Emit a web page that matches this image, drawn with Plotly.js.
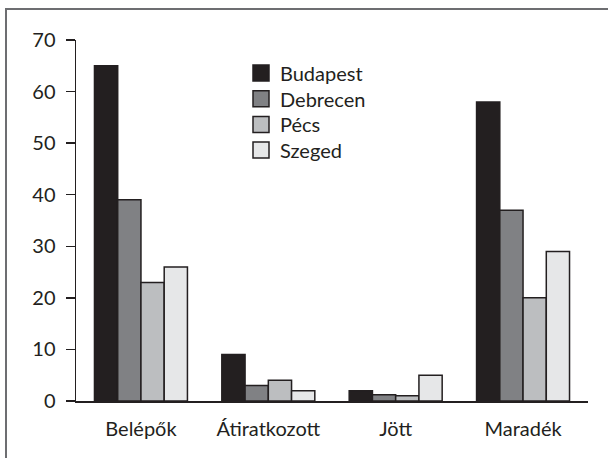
<!DOCTYPE html>
<html>
<head>
<meta charset="utf-8">
<script src="https://cdn.plot.ly/plotly-3.0.1.min.js"></script>
<style>
  html, body { margin: 0; padding: 0; background: #fff; }
  #frame { position: absolute; left: 5px; top: 8px; width: 620px; height: 470px;
           border-left: 2px solid #6d6e71; border-top: 2px solid #6d6e71; }
  #chart { position: absolute; left: 0; top: 0; width: 608px; height: 458px; }
</style>
</head>
<body>
<div id="frame"></div>
<div id="chart"></div>
<script>
const categories = ["Belépők", "Átiratkozott", "Jött", "Maradék"];
const seriesNames = ["Budapest", "Debrecen", "Pécs", "Szeged"];
const budapest = [65, 9, 2, 58];
const debrecen = [39, 3, 1.2, 37];
const pecs = [23, 4, 1, 20];
const szeged = [26, 2, 5, 29];
const yTicks = [0, 10, 20, 30, 40, 50, 60, 70];

const colors = ["#231f20", "#808184", "#bcbec0", "#e6e7e8"];
const values = [budapest, debrecen, pecs, szeged];

const traces = seriesNames.map((name, i) => ({
  type: "bar",
  name: name,
  x: categories,
  y: values[i],
  marker: { color: colors[i], line: { color: "#231f20", width: 1.5 } },
  hoverinfo: "skip",
  showlegend: false
}));

const font = "Lato, 'Open Sans', 'DejaVu Sans', sans-serif";

// plot area in pixels
const M = { l: 76, r: 20, t: 40, b: 57 };
const W = 608, H = 458;
const pw = W - M.l - M.r, ph = H - M.t - M.b;
const px2x = px => (px - M.l) / pw;
const py2y = py => (H - M.b - py) / ph;

// custom legend (squares + labels) built from the series names/colors
const legendShapes = [];
const legendAnns = [];
seriesNames.forEach((name, i) => {
  const cy = 73 + i * 25.7;
  legendShapes.push({
    type: "rect", xref: "paper", yref: "paper",
    x0: px2x(253), x1: px2x(269), y0: py2y(cy + 8), y1: py2y(cy - 8),
    fillcolor: colors[i], line: { color: "#231f20", width: 1.5 }
  });
  legendAnns.push({
    xref: "paper", yref: "paper", x: px2x(278), y: py2y(cy),
    xanchor: "left", yanchor: "middle", showarrow: false,
    text: name, font: { family: font, size: 20, color: "#231f20" }
  });
});

const layout = {
  width: W, height: H,
  margin: M,
  paper_bgcolor: "rgba(0,0,0,0)",
  plot_bgcolor: "rgba(0,0,0,0)",
  barmode: "group",
  bargap: 0.27,
  bargroupgap: 0,
  showlegend: false,
  font: { family: font, color: "#231f20" },
  shapes: legendShapes,
  annotations: legendAnns,
  xaxis: {
    type: "category",
    range: [-0.51, 3.51],
    showline: true, linecolor: "#231f20", linewidth: 1.5,
    ticks: "", showgrid: false, zeroline: false,
    tickfont: { family: font, size: 20, color: "#231f20" },
    ticklabelstandoff: 9
  },
  yaxis: {
    range: [0, 70],
    tickvals: yTicks,
    ticktext: yTicks.map(String),
    showline: true, linecolor: "#231f20", linewidth: 1.5,
    ticks: "outside", ticklen: 9, tickwidth: 1.5, tickcolor: "#231f20",
    showgrid: false, zeroline: false,
    tickfont: { family: font, size: 20, color: "#231f20" },
    ticklabelstandoff: 6
  }
};

Plotly.newPlot("chart", traces, layout, { staticPlot: true, displayModeBar: false });
</script>
</body>
</html>
